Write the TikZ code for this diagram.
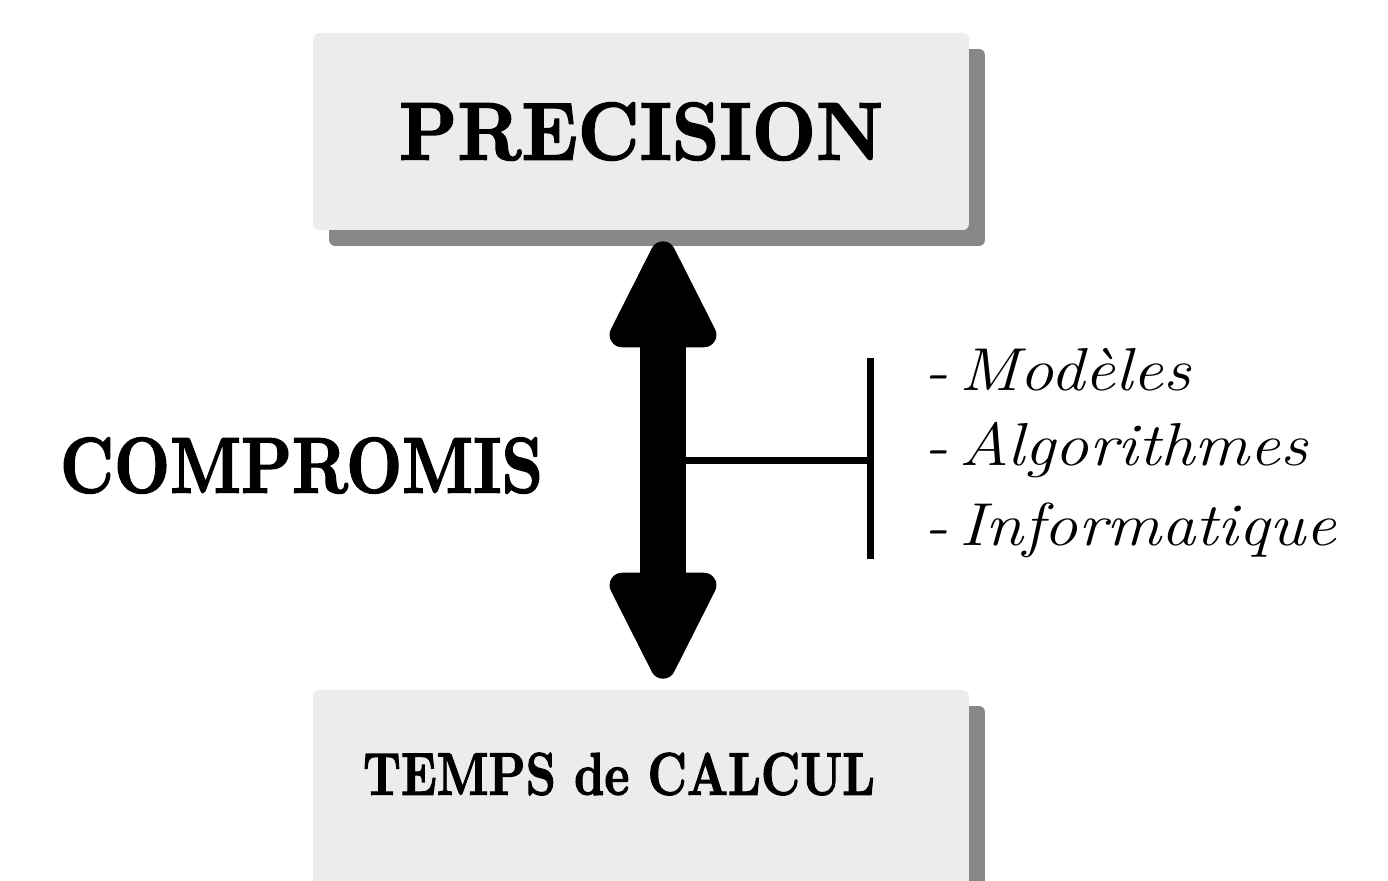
\documentclass[tikz,border=0pt]{standalone}
\usepackage{graphicx}
\usepackage{fontspec}
\usetikzlibrary{arrows.meta,shadows}

\newfontfamily\heavyfont{lmroman10-bold.otf}[FakeBold=2]

\definecolor{boxgray}{HTML}{ECECEC}
\definecolor{shadowgray}{HTML}{888888}

\tikzset{
  bigbox/.style={fill=boxgray, rounded corners=0.12cm, minimum width=13.12cm, minimum height=3.94cm,
    drop shadow={shadow xshift=0.32cm, shadow yshift=-0.32cm, fill=shadowgray, opacity=1}},
  fathead/.tip={Triangle[length=2.46cm, width=2.3cm, round, line width=0.5cm]},
  item/.style={anchor=base west, font=\fontsize{34.5}{40}\selectfont\itshape},
}

\begin{document}
\begin{tikzpicture}[x=0.02cm,y=-0.02cm]
      \useasboundingbox (0,0) rectangle (1388,880);
      \clip (0,0) rectangle (1388,880);
      % boxes
      \node[bigbox] (precision) at (641,131.5) {\resizebox{9.68cm}{1.14cm}{\heavyfont PRECISION}};
      \node[bigbox] (calcul) at (641,788.5) {};
      \node (calcultext) at (619,774) {\resizebox{10.24cm}{0.84cm}{\heavyfont TEMPS de CALCUL}};
      % compromise arrow
      \draw[line width=0.92cm, shorten <=0.22cm, shorten >=0.22cm, fathead-fathead]
        ([xshift=0.44cm]precision.south) -- ([xshift=0.44cm]calcul.north);
      \node (compromis) at (301.5,465.5) {\resizebox{9.66cm}{1.1cm}{\heavyfont COMPROMIS}};
      \coordinate (shaft) at (663,460);
      \coordinate (bar) at (870.5,460);
      \draw[line width=0.14cm] (shaft) -- (bar);
      \draw[line width=0.14cm] (bar) ++(0,-102) -- ++(0,201);
      % list
      \node[item] (modeles) at (918,390) {\scalebox{1.13}[1]{-\hspace{0.17em}Modèles}};
      \node[item] (algo) at (918,465) {\scalebox{1.13}[1]{-\hspace{0.17em}Algorithmes}};
      \node[item] (info) at (918,545) {\scalebox{1.13}[1]{-\hspace{0.17em}Informatique}};
    \end{tikzpicture}
\end{document}
